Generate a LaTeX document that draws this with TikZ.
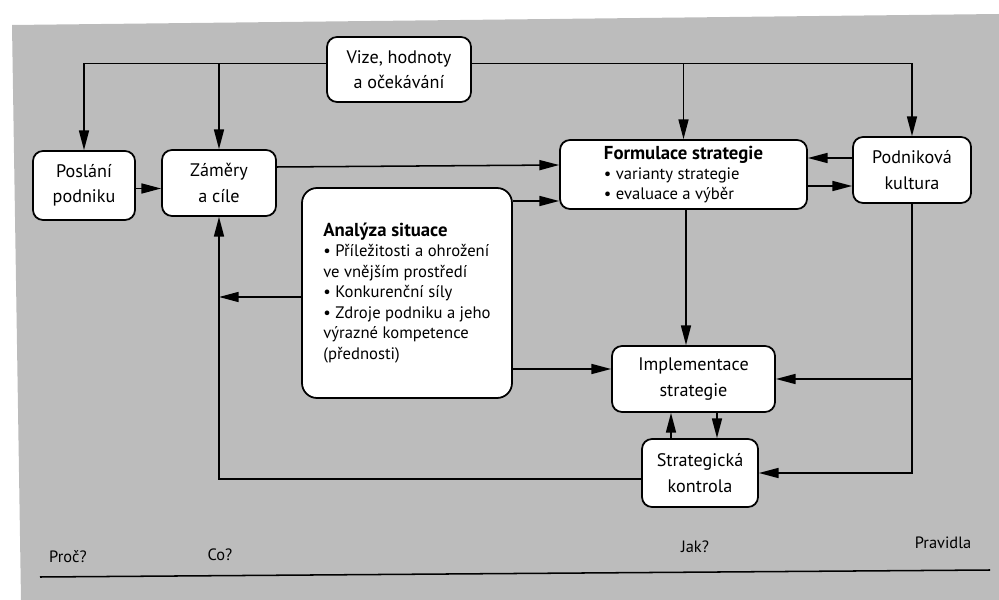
\documentclass[tikz,border=0pt]{standalone}
\usepackage{fontspec}
\setmainfont{PT Sans}
\usetikzlibrary{arrows.meta,calc}
\definecolor{bggray}{RGB}{188,188,188}

\begin{document}
\begin{tikzpicture}[x=0.3mm,y=-0.3mm,
  box/.style={draw, line width=1.5pt, fill=white, rounded corners=3mm,
    align=center, inner sep=0pt, font=\fontsize{15.5}{21.5}\selectfont},
  listbox/.style={box, align=left, font=\fontsize{14.2}{17.5}\selectfont},
  wire/.style={line width=1.3pt},
  arr/.style={wire, -{Triangle[length=5.9mm,width=3mm]}},
  tag/.style={font=\fontsize{14}{16}\selectfont, inner sep=0pt}]

\useasboundingbox (0,0) rectangle (999,600);
% paper tone behind the chart
\fill[bggray] (12,25) -- (999,14) -- (999,600) -- (21,600) -- cycle;

% boxes
\node[box, minimum width=43.2mm, minimum height=19.5mm] (vize) at (399,69.5)
  {Vize, hodnoty\\a očekávání};
\node[box, minimum width=30.6mm, minimum height=20.7mm] (poslani) at (84,185.5)
  {Poslání\\podniku};
\node[box, minimum width=34.2mm, minimum height=19.8mm] (zamery) at (219,183)
  {Záměry\\a cíle};
\node[listbox, minimum width=74.1mm, minimum height=20.7mm,
  font=\fontsize{14.2}{16.8}\selectfont] (formulace) at (683.5,174.5)
  {{\fontsize{16}{16.8}\selectfont\bfseries Formulace strategie}\\
   • varianty strategie\\
   • evaluace a výběr};
\node[box, minimum width=35.4mm, minimum height=19.8mm] (podnik) at (912,170)
  {Podniková\\kultura};
\node[listbox, minimum width=63mm, minimum height=63mm, rounded corners=4.5mm]
  (analyza) at (407,293)
  {{\fontsize{16}{17.5}\selectfont\bfseries Analýza situace}\\
   • Příležitosti a ohrožení\\
   ve vnějším prostředí\\
   • Konkurenční síly\\
   • Zdroje podniku a jeho\\
   výrazné kompetence\\
   (přednosti)};
\node[box, minimum width=48.9mm, minimum height=19.8mm] (impl) at (693.5,379)
  {Implementace\\strategie};
\node[box, minimum width=34.8mm, minimum height=20.4mm] (kontrola) at (700,473)
  {Strategická\\kontrola};

% vision feeds the upper row
\coordinate (vl) at ([yshift=1.8mm]vize.west);
\coordinate (vr) at ([yshift=1.8mm]vize.east);
\draw[arr] (vl) -| (poslani.north);
\draw[arr] (zamery.north |- vl) -- (zamery.north);
\draw[arr] (vr) -| (podnik.north);
\draw[arr] (formulace.north |- vr) -- (formulace.north);

% upper row
\draw[arr] (poslani.east |- 0,188.5) -- (zamery.west |- 0,188.5);
\draw[arr] (zamery.east |- 0,167) -- (formulace.west |- 0,165);
\draw[arr] (analyza.east |- 0,201) -- (formulace.west |- 0,201);
\draw[arr] (podnik.west |- 0,158) -- (formulace.east |- 0,158);
\draw[arr] (formulace.east |- 0,186) -- (podnik.west |- 0,186);

% strategy down to implementation
\draw[arr] (formulace.south -| 686,0) -- (impl.north -| 686,0);
\draw[arr] (analyza.east |- 0,369) -- (impl.west |- 0,369);
\draw[arr] (analyza.west |- 0,297) -- (zamery.south |- 0,297);

% implementation and control
\draw[arr] (kontrola.north -| 671,0) -- (impl.south -| 671,0);
\draw[arr] (impl.south -| 717,0) -- (kontrola.north -| 717,0);

% feedback from control to objectives
\draw[arr] (kontrola.west |- 0,479) -| (zamery.south);

% culture shapes implementation and control
\draw[arr] (podnik.south) |- (kontrola.east);
\draw[arr] (podnik.south |- impl.east) -- (impl.east);

% question row
\node[tag] (proc) at (68,557) {Proč?};
\node[tag] (co) at (220,555) {Co?};
\node[tag] (jak) at (695,547) {Jak?};
\node[tag] (pravidla) at (943,543) {Pravidla};
\coordinate (baseL) at (40,577);
\coordinate (baseR) at (990,570);
\draw[wire] (baseL) -- (baseR);
\end{tikzpicture}
\end{document}
